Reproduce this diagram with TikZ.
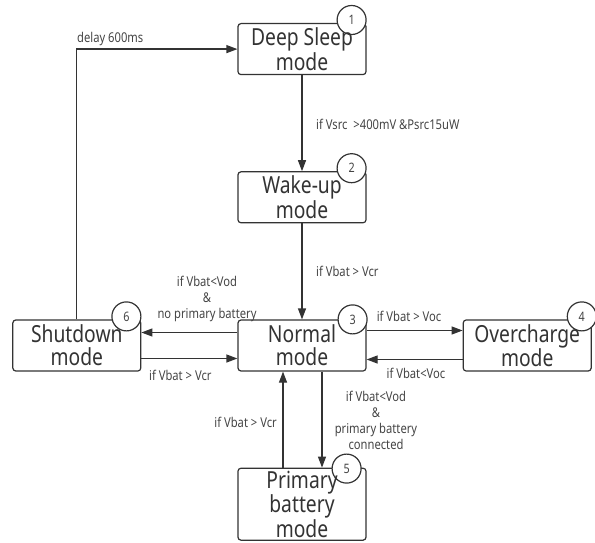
\documentclass[tikz,border=0pt]{standalone}
\usepackage{fontspec}
\setmainfont{Noto Sans}
\newfontfamily\modefont[FakeStretch=0.82]{Noto Sans}
\newfontfamily\condfont[FakeStretch=0.83]{Noto Sans}
\usetikzlibrary{positioning}
\usetikzlibrary{arrows.meta}
\definecolor{ink}{HTML}{333333}
\definecolor{note}{HTML}{444444}
\tikzset{
  mode/.style={draw=ink, line width=1.2pt, rounded corners=3pt, fill=white,
    minimum width=128pt, minimum height=51pt, inner sep=0pt},
  mode text/.style={text=ink, align=center, inner sep=0pt,
    font=\modefont\fontsize{23.5pt}{23pt}\selectfont},
  badge/.style={circle, draw=ink, line width=1.2pt, fill=white,
    minimum size=29pt, inner sep=0pt, text=note,
    font=\condfont\fontsize{13pt}{13pt}\selectfont},
  cond/.style={text=note, align=center, inner sep=0pt,
    font=\condfont\fontsize{13.5pt}{16pt}\selectfont},
  trans/.style={draw=ink, line width=1.2pt, -{Triangle[length=11pt,width=8pt]}},
}

\begin{document}
\begin{tikzpicture}[x=1pt, y=-1pt, node distance=96pt]

  \useasboundingbox (0,0) rectangle (595,543);

  % Define nodes
  \node[mode] (normal) at (302,345.5) {};
  \node[mode, above=of normal] (wake) {};
  \node[mode, above=of wake] (deep) {};
  \node[mode, left=of normal] (shutdown) {};
  \node[mode, right=of normal] (overcharge) {};
  \node[mode, below=of normal, minimum height=72pt] (primary) {};

  % Badges
  \foreach \m/\k/\dx/\dy in {deep/1/-15/-3, wake/2/-15/-3, normal/3/-14/0,
      overcharge/4/-10/-3, primary/5/-20/1, shutdown/6/-15/-3}
    \node[badge] (badge\k) at ([shift={(\dx,\dy)}]\m.north east) {\k};

  % Mode names
  \node[mode text] at (deep) {Deep Sleep\\mode};
  \node[mode text] at (wake) {Wake-up\\mode};
  \node[mode text] at (normal) {Normal\\mode};
  \node[mode text] at (shutdown) {Shutdown\\mode};
  \node[mode text] at (overcharge) {Overcharge\\mode};
  \node[mode text] at (primary) {Primary\\battery\\mode};

  % Connect nodes
  \draw[trans] (deep) -- (wake);
  \draw[trans] (wake) -- (normal);
  \draw[trans] ([yshift=13pt]normal.west) -- ([yshift=13pt]shutdown.east);
  \draw[trans] ([yshift=-13pt]shutdown.east) -- ([yshift=-13pt]normal.west);
  \draw[trans] ([yshift=15pt]normal.east) -- ([yshift=15pt]overcharge.west);
  \draw[trans] ([yshift=-14pt]overcharge.west) -- ([yshift=-14pt]normal.east);
  \draw[trans] ([xshift=-19pt]primary.north) -- ([xshift=-19pt]normal.south);
  \draw[trans] ([xshift=20pt]normal.south) -- ([xshift=20pt]primary.north);
  \draw[trans] (shutdown.north) |- (deep.west);

  % Conditions
  \node[cond, anchor=west] (c_delay) at (77,39) {delay 600ms};
  \node[cond, anchor=west] (c_vsrc) at (316,124) {if Vsrc\ \ >400mV \&Psrc15uW};
  \node[cond, anchor=west] (c_wake) at (316,271) {if Vbat > Vcr};
  \node[cond] (c_nobat) at (207,299) {if Vbat<Vod\\\&\\no primary battery};
  \node[cond, anchor=west] (c_back) at (149,375) {if Vbat > Vcr};
  \node[cond] (c_over) at (409,316) {if Vbat > Voc};
  \node[cond] (c_under) at (416,373) {if Vbat<Voc};
  \node[cond, anchor=east] (c_prim) at (277,422) {if Vbat > Vcr};
  \node[cond] (c_conn) at (376,420) {if Vbat<Vod\\\&\\primary battery\\connected};

\end{tikzpicture}
\end{document}
